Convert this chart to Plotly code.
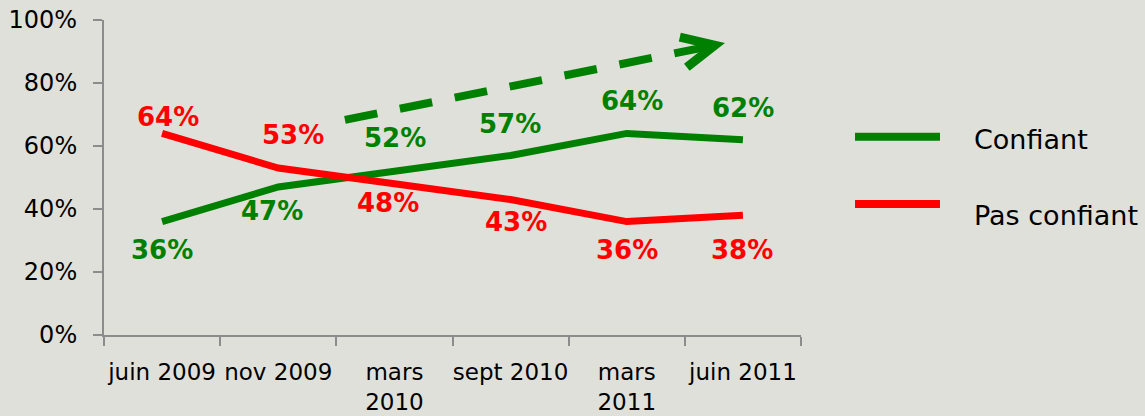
import plotly.graph_objects as go

# Data
dates = ["juin 2009", "nov 2009", "mars<br>2010", "sept 2010", "mars<br>2011", "juin 2011"]
confiant = [36, 47, 52, 57, 64, 62]
pas_confiant = [64, 53, 48, 43, 36, 38]
y_ticks = [0, 20, 40, 60, 80, 100]

# label offsets (px) relative to each point
green_dx = [0, -6, 1, -1, 5, 0]
green_dy = [-28, -24, 33, 31, 32, 32]
red_dx = [6, 15, -6, 5, 0, -1]
red_dy = [16, 33, -19, -22, -28, -35]

# trend arrow (category index, percent)
arrow_start = [1.574, 68.3]
arrow_end = [4.758, 92.0]

GREEN = "#008000"
RED = "#ff0000"
BG = "#dfe0da"
FONT = "DejaVu Sans"

fig = go.Figure()
fig.add_trace(go.Scatter(x=dates, y=confiant, mode="lines", name="Confiant",
                         line=dict(color=GREEN, width=7)))
fig.add_trace(go.Scatter(x=dates, y=pas_confiant, mode="lines", name="Pas confiant",
                         line=dict(color=RED, width=7)))

# data labels
for vals, dx, dy, col in [(confiant, green_dx, green_dy, GREEN),
                          (pas_confiant, red_dx, red_dy, RED)]:
    for d, v, sx, sy in zip(dates, vals, dx, dy):
        fig.add_annotation(x=d, y=v, text=f"<b>{v}%</b>", showarrow=False,
                           xshift=sx, yshift=sy, xanchor="center", yanchor="middle",
                           font=dict(family=FONT, size=26, color=col))

# dashed trend arrow with open head
fig.add_shape(type="line", x0=arrow_start[0], y0=arrow_start[1],
              x1=arrow_end[0], y1=arrow_end[1], xref="x", yref="y",
              line=dict(color=GREEN, width=8, dash="33px,23px"))
fig.add_shape(type="path", xref="x", yref="y", xsizemode="pixel", ysizemode="pixel",
              xanchor=arrow_end[0], yanchor=arrow_end[1],
              path="M -35,8 L 0,0 L -28,-22",
              line=dict(color=GREEN, width=9))

# legend drawn manually
for yy, col, lab, ty in [(0.629, GREEN, "Confiant", 0.622), (0.416, RED, "Pas confiant", 0.378)]:
    fig.add_shape(type="line", xref="paper", yref="paper", x0=1.0775, x1=1.1994,
                  y0=yy, y1=yy, line=dict(color=col, width=8))
    fig.add_annotation(xref="paper", yref="paper", x=1.245, y=ty, text=lab,
                       showarrow=False, xanchor="left", yanchor="middle",
                       font=dict(family=FONT, size=27, color="#000000"))

axis_style = dict(showline=True, linecolor="#8c8c8c", linewidth=2,
                  ticks="outside", ticklen=9, tickcolor="#8c8c8c", tickwidth=2,
                  showgrid=False, zeroline=False, automargin=False)

fig.update_layout(
    width=1145, height=416,
    margin=dict(l=104, r=344, t=20, b=81),
    paper_bgcolor=BG, plot_bgcolor=BG,
    showlegend=False,
    font=dict(family=FONT, size=22, color="#000000"),
    xaxis=dict(type="category", range=[-0.5, 5.5], tickson="boundaries",
               tickangle=0, ticklabelstandoff=15, tickfont=dict(size=23),
               **axis_style),
    yaxis=dict(range=[0, 100], tickvals=y_ticks, ticklabelstandoff=11,
               ticktext=[f"{t}%" for t in y_ticks], tickfont=dict(size=24),
               **axis_style),
)

fig.write_html("out.html", config={"displayModeBar": False},
               post_script="document.body.style.margin='0';"
                           "document.body.style.background='" + BG + "';")
